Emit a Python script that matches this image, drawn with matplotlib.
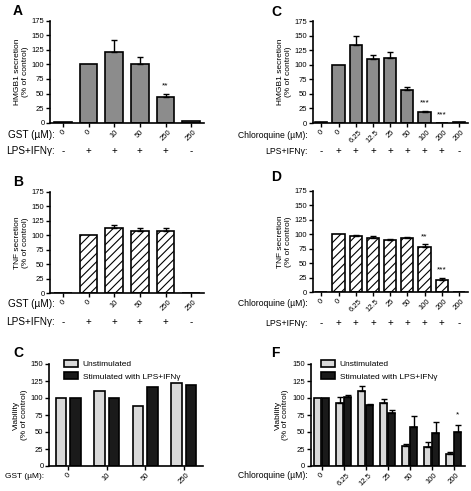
import numpy as np
import matplotlib
matplotlib.use('Agg')
import matplotlib.pyplot as plt
from matplotlib.transforms import blended_transform_factory

plt.rcParams['font.family'] = ['Liberation Sans', 'DejaVu Sans']
plt.rcParams['hatch.linewidth'] = 0.8

# ---- data ----
gst_labels = ['0', '0', '10', '50', '250', '250']
gst_lps = ['-', '+', '+', '+', '+', '-']
hmgb1_gst = [2, 100, 122, 101, 44, 3]
hmgb1_gst_err = [0, 0, 20, 12, 6, 0]
hmgb1_gst_sig = ['', '', '', '', '**', '']
tnf_gst = [0.5, 100, 113, 107, 107, 0.5]
tnf_gst_err = [0, 0, 5, 5, 5, 0]
tnf_gst_sig = ['', '', '', '', '', '']

cq_labels = ['0', '0', '6.25', '12.5', '25', '50', '100', '200', '200']
cq_lps = ['-', '+', '+', '+', '+', '+', '+', '+', '-']
hmgb1_cq = [2, 100, 134, 110, 111, 57, 19, 0.5, 2]
hmgb1_cq_err = [0, 0, 16, 6, 10, 4, 2, 0, 0]
hmgb1_cq_sig = ['', '', '', '', '', '', '***', '***', '']
tnf_cq = [0.5, 100, 97, 94, 90, 93, 78, 22, 0.5]
tnf_cq_err = [0, 0, 2, 2.5, 2, 3, 5, 3, 0]
tnf_cq_sig = ['', '', '', '', '', '', '**', '***', '']

via_gst_labels = ['0', '10', '50', '250']
via_gst_unstim = [100, 110, 88, 122]
via_gst_stim = [100, 100, 116, 119]

via_cq_labels = ['0', '6.25', '12.5', '25', '50', '100', '200']
via_cq_unstim = [100, 93, 110, 93, 30, 28, 18]
via_cq_unstim_err = [0, 9, 7, 6, 2, 7, 2]
via_cq_stim = [100, 102, 90, 78, 58, 48, 50]
via_cq_stim_err = [0, 3, 1, 4, 15, 17, 10]
via_cq_sig = ['', '', '', '', '', '', '*']

# ---- figure in pixel units ----
W, H = 471, 491
fig = plt.figure(figsize=(W / 100, H / 100), dpi=100)


def box(l, t, r, b):
    return [l / W, 1 - b / H, (r - l) / W, (b - t) / H]


def fy(y):
    return 1 - y / H


def style(ax, ylim, step):
    for s in ['top', 'right']:
        ax.spines[s].set_visible(False)
    for s in ['left', 'bottom']:
        ax.spines[s].set_linewidth(1.2)
    ax.set_ylim(*ylim)
    ax.set_yticks(np.arange(ylim[0], ylim[1] + 1, step))
    ax.tick_params(length=3, width=1, labelsize=5.5, pad=1)


def err_up(ax, x, vals, errs):
    x = np.asarray(x, dtype=float)
    vals = np.asarray(vals, dtype=float)
    errs = np.asarray(errs, dtype=float)
    m = errs > 0
    ax.errorbar(x[m], vals[m], yerr=[np.zeros(m.sum()), errs[m]], fmt='none',
                ecolor='black', elinewidth=1, capsize=2.5, capthick=1)


def stars(ax, x, vals, errs, sig, off, fs=6):
    for xi, v, e, s in zip(x, vals, errs, sig):
        if s:
            ax.text(xi, v + e + off, s, ha='center', va='center', fontsize=fs)


def bar_panel(rect, labels, vals, errs, sig, face, hatch, ylabel):
    ax = fig.add_axes(box(*rect))
    x = np.arange(len(vals))
    ax.bar(x, vals, width=0.7, color=face, edgecolor='black', linewidth=1.2, hatch=hatch)
    err_up(ax, x, vals, errs)
    stars(ax, x, vals, errs, sig, 13)
    style(ax, (0, 175), 25)
    ax.set_xlim(-0.5, len(vals) - 0.5)
    ax.set_xticks(x)
    ax.set_xticklabels(labels, rotation=45, ha='center', va='top', fontsize=5.5)
    ax.set_ylabel(ylabel, fontsize=6, labelpad=2, linespacing=1.1)
    return ax


def lps_row(ax, signs, y, fs=7):
    tr = blended_transform_factory(ax.transData, fig.transFigure)
    for i, s in enumerate(signs):
        ax.text(i, fy(y), s, transform=tr, ha='center', va='center', fontsize=fs)


# A
axA = bar_panel((50, 20.7, 204, 122.7), gst_labels, hmgb1_gst, hmgb1_gst_err, hmgb1_gst_sig,
                '#8c8c8c', None, 'HMGB1 secretion\n(% of control)')
lps_row(axA, gst_lps, 151)
fig.text(55 / W, fy(135), 'GST (\u00b5M):', ha='right', va='center', fontsize=7.2)
fig.text(55 / W, fy(151), 'LPS+IFN\u03b3:', ha='right', va='center', fontsize=7.2)
fig.text(13 / W, fy(11), 'A', fontsize=10, fontweight='bold', va='center')

# C (top right)
axC = bar_panel((312.7, 21, 467.5, 123), cq_labels, hmgb1_cq, hmgb1_cq_err, hmgb1_cq_sig,
                '#8c8c8c', None, 'HMGB1 secretion\n(% of control)')
lps_row(axC, cq_lps, 151)
fig.text(308 / W, fy(135), 'Chloroquine (\u00b5M):', ha='right', va='center', fontsize=6.2)
fig.text(308 / W, fy(151), 'LPS+IFN\u03b3:', ha='right', va='center', fontsize=6.2)
fig.text(271 / W, fy(12), 'C', fontsize=10, fontweight='bold', va='center')

# B
axB = bar_panel((50, 191.7, 204, 293.3), gst_labels, tnf_gst, tnf_gst_err, tnf_gst_sig,
                'white', '////', 'TNF secretion\n(% of control)')
lps_row(axB, gst_lps, 322)
fig.text(55 / W, fy(304), 'GST (\u00b5M):', ha='right', va='center', fontsize=7.2)
fig.text(55 / W, fy(322), 'LPS+IFN\u03b3:', ha='right', va='center', fontsize=7.2)
fig.text(13 / W, fy(182), 'B', fontsize=10, fontweight='bold', va='center')

# D
axD = bar_panel((312.7, 190.7, 467.5, 292.3), cq_labels, tnf_cq, tnf_cq_err, tnf_cq_sig,
                'white', '////', 'TNF secretion\n(% of control)')
lps_row(axD, cq_lps, 323)
fig.text(308 / W, fy(304), 'Chloroquine (\u00b5M):', ha='right', va='center', fontsize=6.2)
fig.text(308 / W, fy(323), 'LPS+IFN\u03b3:', ha='right', va='center', fontsize=6.2)
fig.text(271 / W, fy(177), 'D', fontsize=10, fontweight='bold', va='center')


def via_panel(rect, labels, un, st, un_err, st_err, sig, width, off, leg_x):
    ax = fig.add_axes(box(*rect))
    x = np.arange(len(labels))
    ax.bar(x - off, un, width=width, color='#d9d9d9', edgecolor='black', linewidth=1.2,
           label='Unstimulated')
    ax.bar(x + off, st, width=width, color='#1a1a1a', edgecolor='black', linewidth=1.2,
           label='Stimulated with LPS+IFN\u03b3')
    if un_err is not None:
        err_up(ax, x - off, un, un_err)
        err_up(ax, x + off, st, st_err)
        stars(ax, x + off, st, st_err, sig, 15)
    style(ax, (0, 150), 25)
    ax.set_xlim(-0.5, len(labels) - 0.5)
    ax.set_xticks(x)
    ax.set_xticklabels(labels, rotation=45, ha='center', va='top', fontsize=5.5)
    ax.set_ylabel('Viability\n(% of control)', fontsize=6, labelpad=2, linespacing=1.1)
    ax.legend(loc='upper left', bbox_to_anchor=(leg_x, 1.04), frameon=False, fontsize=6,
              handlelength=1.6, handleheight=0.95, handletextpad=0.6, labelspacing=0.45,
              borderaxespad=0, borderpad=0)
    return ax


axE = via_panel((49, 364, 203, 466), via_gst_labels, via_gst_unstim, via_gst_stim,
                None, None, None, 0.27, 0.19, 0.10)
fig.text(5 / W, fy(476), 'GST (\u00b5M):', ha='left', va='center', fontsize=6)
fig.text(13 / W, fy(353), 'C', fontsize=10, fontweight='bold', va='center')

axF = via_panel((310.5, 364, 465, 466), via_cq_labels, via_cq_unstim, via_cq_stim,
                via_cq_unstim_err, via_cq_stim_err, via_cq_sig, 0.32, 0.18, 0.07)
fig.text(308 / W, fy(476), 'Chloroquine (\u00b5M):', ha='right', va='center', fontsize=6.2)
fig.text(271 / W, fy(353), 'F', fontsize=10, fontweight='bold', va='center')

fig.savefig('out.png', dpi=100)
